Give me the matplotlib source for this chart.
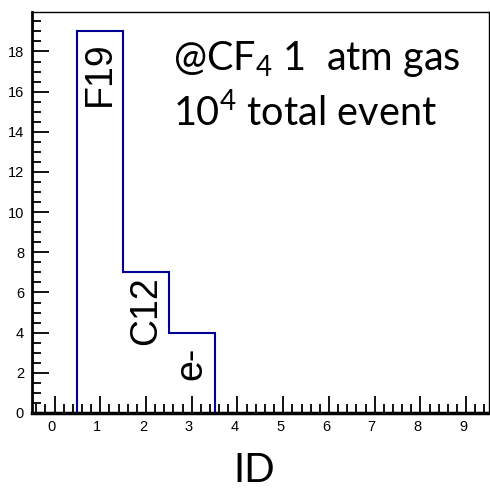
import matplotlib
matplotlib.use("Agg")
import matplotlib.pyplot as plt
import matplotlib.transforms as mtransforms
from matplotlib.ticker import MultipleLocator

# histogram contents, bins of width 1 centred on integer IDs
ids = [0, 1, 2, 3, 4, 5, 6, 7, 8, 9]
counts = [0, 19, 7, 4, 0, 0, 0, 0, 0, 0]
edges = [i - 0.5 for i in ids] + [ids[-1] + 0.5]

# particle labels written inside the bars
label_ids = [1, 2, 3]
label_names = ["F19", "C12", "e-"]
label_y = [18.5, 6.8, 3.3]

info_lines = ["@CF$_4$ 1  atm gas", "10$^4$ total event"]

plt.rcParams["font.family"] = ["Liberation Sans", "DejaVu Sans"]
plt.rcParams["mathtext.fontset"] = "custom"
plt.rcParams["mathtext.rm"] = "Lato"

fig = plt.figure(figsize=(4.9, 4.88), dpi=100)
ax = fig.add_axes([0.0647, 0.1537, 0.9333, 0.8211])

ax.stairs(counts, edges, color="#000099", linewidth=1.5)

ax.set_xlim(-0.5, 9.5)
ax.set_ylim(0, 19.95)

ax.xaxis.set_major_locator(MultipleLocator(1))
ax.xaxis.set_minor_locator(MultipleLocator(0.2))
ax.yaxis.set_major_locator(MultipleLocator(2))
ax.yaxis.set_minor_locator(MultipleLocator(0.5))
ax.tick_params(which="both", direction="in", top=False, right=False,
               labelsize=10.5, color="black")
ax.tick_params(which="major", length=12, width=1.3)
ax.tick_params(which="minor", length=6.5, width=1.3)
ax.tick_params(axis="x", pad=5)
ax.tick_params(axis="y", pad=5.5)

# ROOT puts x labels a little left of the tick
shift = mtransforms.ScaledTranslation(-3 / 100, 0, fig.dpi_scale_trans)
for lab in ax.get_xticklabels():
    lab.set_transform(lab.get_transform() + shift)

ax.spines["left"].set_linewidth(2)
ax.spines["bottom"].set_linewidth(2.5)
ax.spines["top"].set_linewidth(1)
ax.spines["right"].set_linewidth(1)

for x, name, y in zip(label_ids, label_names, label_y):
    ax.text(x, y, name, rotation=90, ha="center", va="top", fontsize=27)

ax.text(2.58, 17.09, info_lines[0], fontsize=28.5, family="Lato",
        ha="left", va="baseline")
ax.text(2.58, 14.25, info_lines[1], fontsize=28.5, family="Lato",
        ha="left", va="baseline")

fig.text(0.518, 0.012, "ID", fontsize=29, family="Lato",
         ha="center", va="baseline")

fig.savefig("out.png", dpi=100)
